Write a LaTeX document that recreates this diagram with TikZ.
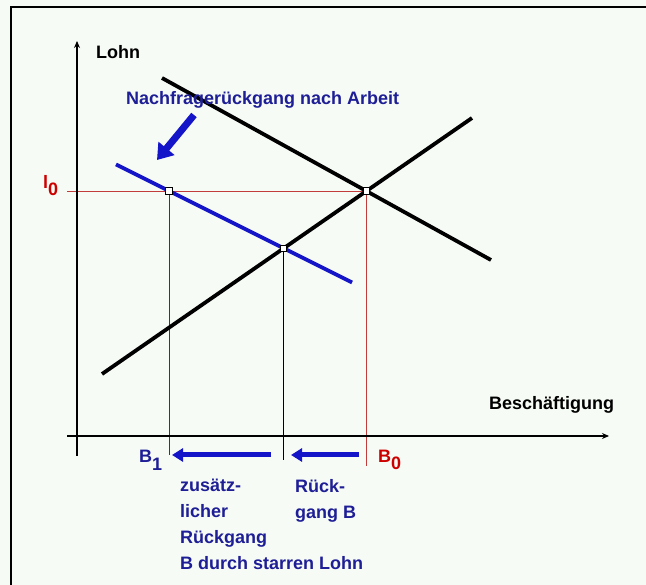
\documentclass[tikz,border=0pt]{standalone}
\usepackage{fontspec}
\setmainfont{Liberation Sans}
\usetikzlibrary{arrows.meta,intersections}
\definecolor{bg}{RGB}{247,251,245}
\definecolor{txtblue}{RGB}{30,30,150}
\definecolor{lineblue}{RGB}{20,20,200}
\definecolor{guideblue}{RGB}{40,40,210}
\definecolor{redtxt}{RGB}{205,0,0}
\definecolor{redline}{RGB}{195,60,60}
\begin{document}
\begin{tikzpicture}[x=1pt,y=-1pt,
  lbl/.style={font=\fontsize{18}{26}\selectfont\bfseries, inner sep=0pt, anchor=west},
  curve/.style={line width=3.8pt},
  guide/.style={line width=1.1pt},
  axis/.style={line width=1.8pt},
  eqpt/.style={draw=black, fill=white, line width=0.9pt, minimum size=6.5pt, inner sep=0pt, rectangle},
  bigarrow/.style={lineblue, line width=5pt, -{Triangle[length=11pt,width=13pt]}},
  fatarrow/.style={lineblue, line width=7pt, -{Triangle[length=15pt,width=20pt]}}
]
\useasboundingbox (0,0) rectangle (646,585);
\fill[bg] (0,0) rectangle (646,585);
\draw[line width=2.6pt] (11,585) -- (11,7) -- (646,7);

% key points
\coordinate (d1) at (162,78);
\coordinate (d2) at (491,260);
\coordinate (s1) at (102,374);
\coordinate (s2) at (472,118);
\coordinate (n1) at (116,164.5);
\coordinate (n2) at (352,282.5);
\path[name path=D] (d1) -- (d2);
\path[name path=S] (s1) -- (s2);
\path[name path=N] (n1) -- (n2);
\path[name intersections={of=D and S, by=E0}];
\path[name intersections={of=N and S, by=E1}];
\coordinate (hl) at (67,0 |- E0);
\path[name path=H] (hl) -- ([xshift=400pt]hl);
\path[name intersections={of=N and H, by=Pn}];
\coordinate (r0) at (E0 |- 0,466);
\coordinate (r1) at (Pn |- 0,455);
\coordinate (r2) at (E1 |- 0,460);

% guides
\draw[guide, draw=redline] (hl) -- (E0) -- (r0);
\draw[guide, draw=guideblue] (Pn) -- (r1);
\draw[guide, draw=black] (E1) -- (r2);

% axes
\coordinate (yb) at (77,456);
\coordinate (yt) at (77,41);
\coordinate (xl) at (67,436);
\coordinate (xr) at (609,436);
\draw[axis, -{Stealth[length=7pt,width=6pt]}] (yb) -- (yt);
\draw[axis, -{Stealth[length=7pt,width=6pt]}] (xl) -- (xr);

% curves
\draw[curve, black] (d1) -- (d2);
\draw[curve, black] (s1) -- (s2);
\draw[curve, lineblue] (n1) -- (n2);

% equilibrium markers
\node[eqpt] (m0) at (E0) {};
\node[eqpt] (m1) at (E1) {};
\node[eqpt] (mp) at (Pn) {};

% labels
\node[lbl] (lohn) at (96,52) {Lohn};
\node[lbl, txtblue] (nach) at (126,100) {Nachfragerückgang nach Arbeit};
\node[lbl, redtxt] (l0) at (43,186) {l\raisebox{-7pt}{0}};
\node[lbl] (besch) at (489,405) {Beschäftigung};
\node[lbl, txtblue] (B1) at (139,460) {B\raisebox{-8pt}{1}};
\node[lbl, redtxt] (B0) at (378,460) {B\raisebox{-7pt}{0}};
\node[lbl, txtblue, anchor=north west, align=left] (zus) at (180,479)
  {zusätz-\\licher\\Rückgang\\B durch starren Lohn};
\node[lbl, txtblue, anchor=north west, align=left] (rueck) at (295,479)
  {Rück-\\gang B};

% blue arrows
\coordinate (fa1) at (194,115);
\coordinate (fa2) at (157,160);
\draw[fatarrow] (fa1) -- (fa2);
\coordinate (a1s) at (271,455);
\coordinate (a1e) at (172,455);
\coordinate (a2s) at (359,455);
\coordinate (a2e) at (291,455);
\draw[bigarrow] (a1s) -- (a1e);
\draw[bigarrow] (a2s) -- (a2e);
\end{tikzpicture}
\end{document}
